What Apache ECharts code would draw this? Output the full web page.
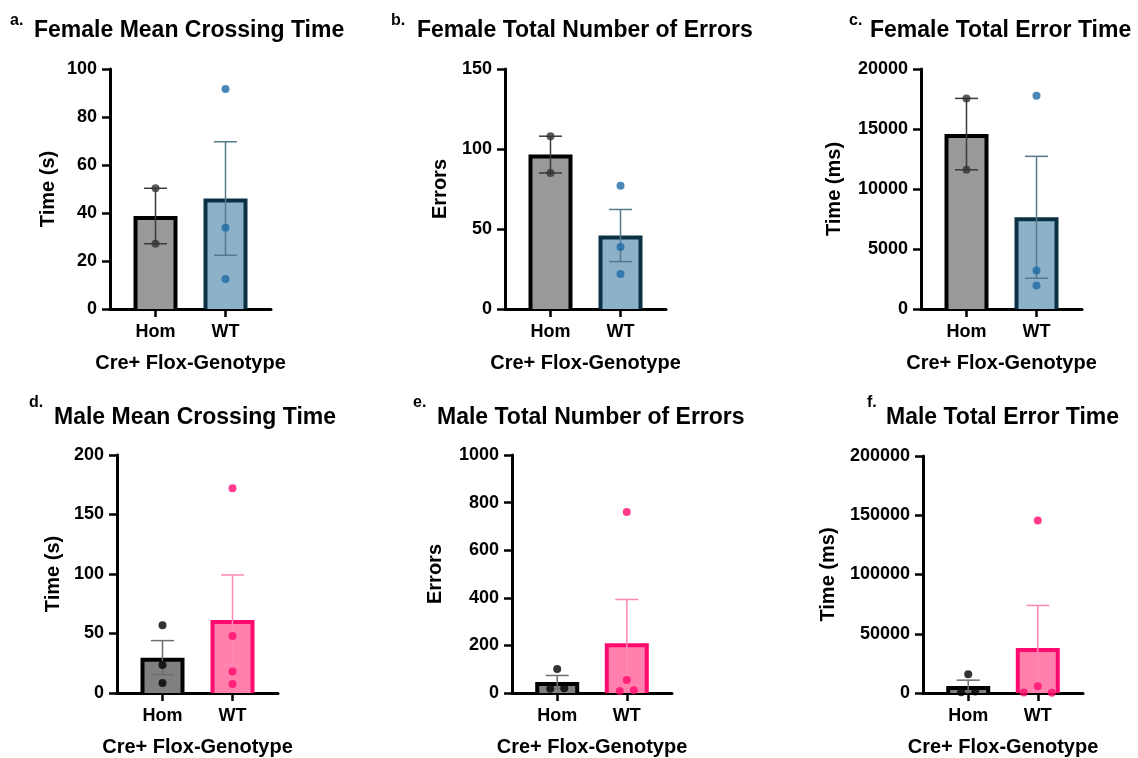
<!DOCTYPE html>
<html>
<head>
<meta charset="utf-8">
<script src="https://cdn.jsdelivr.net/npm/echarts@6/dist/echarts.min.js"></script>
<style>
  html, body { margin: 0; padding: 0; background: #fff; }
  #chart { width: 1138px; height: 758px; }
</style>
</head>
<body>
<div id="chart"></div>
<script>
// ---- data ----
const categories = ['Hom', 'WT'];
const xAxisTitle = 'Cre+ Flox-Genotype';

const panelLetters = ['a.', 'b.', 'c.', 'd.', 'e.', 'f.'];
const panelTitles = [
  'Female Mean Crossing Time',
  'Female Total Number of Errors',
  'Female Total Error Time',
  'Male Mean Crossing Time',
  'Male Total Number of Errors',
  'Male Total Error Time'
];
const yAxisTitles = ['Time (s)', 'Errors', 'Time (ms)', 'Time (s)', 'Errors', 'Time (ms)'];
const yAxisMax = [100, 150, 20000, 200, 1000, 200000];
const yAxisStep = [20, 50, 5000, 50, 200, 50000];

// individual animals per genotype
const femaleCrossingHom = [50.3, 27.2];
const femaleCrossingWT = [91.7, 33.9, 12.5];
const femaleErrorsHom = [108, 85];
const femaleErrorsWT = [77, 38.8, 21.9];
const femaleErrorTimeHom = [17550, 11600];
const femaleErrorTimeWT = [17775, 3200, 1950];
const maleCrossingHom = [57, 23.6, 8.5];
const maleCrossingWT = [172, 47.8, 18, 7.5];
const maleErrorsHom = [101, 20, 18];
const maleErrorsWT = [760, 55, 8, 12];
const maleErrorTimeHom = [15800, 1200, 600];
const maleErrorTimeWT = [145600, 5600, 400, 300];

const panelData = [
  [femaleCrossingHom, femaleCrossingWT],
  [femaleErrorsHom, femaleErrorsWT],
  [femaleErrorTimeHom, femaleErrorTimeWT],
  [maleCrossingHom, maleCrossingWT],
  [maleErrorsHom, maleErrorsWT],
  [maleErrorTimeHom, maleErrorTimeWT]
];
const panelSex = ['female', 'female', 'female', 'male', 'male', 'male'];

// ---- styles ----
const FONT = '"Liberation Sans", Arial, Helvetica, sans-serif';
const palette = {
  female: [
    { fill: '#999999', border: '#000000', err: '#3a3a3a', point: '#333333' },
    { fill: '#8cb1c9', border: '#0c3044', err: '#557a8e', point: '#1e6aa6' }
  ],
  male: [
    { fill: '#808080', border: '#000000', err: '#6e6e6e', point: '#000000' },
    { fill: '#ff80ac', border: '#ff0a6e', err: '#ff88b2', point: '#ff0a6e' }
  ]
};

// ---- layout ----
// lx/ly: panel letter position, tx/ty: heading position (text top)
const grids = [
  { left: 110, top: 69, width: 161, height: 240, nameGap: 52, lx: 10, ly: 13, tx: 34, ty: 19 },
  { left: 505, top: 69, width: 161, height: 240, nameGap: 55, lx: 391, ly: 13, tx: 417, ty: 19 },
  { left: 921, top: 69, width: 161, height: 240, nameGap: 77, lx: 849, ly: 13, tx: 870, ty: 19 },
  { left: 117, top: 455, width: 161, height: 240, nameGap: 54, lx: 29, ly: 395, tx: 54, ty: 406 },
  { left: 512, top: 455, width: 160, height: 240, nameGap: 67, lx: 413, ly: 395, tx: 437, ty: 406 },
  { left: 923, top: 456, width: 160, height: 239, nameGap: 85, lx: 867, ly: 395, tx: 886, ty: 406 }
];
const X_MIN = 0.35, X_MAX = 2.65;
const BAR_W = 44, BAR_BORDER = 4, CAP_W = 23, DOT = 8, ROW_GAP = 9, DOT_SPREAD = 14;

function mean(a) { return a.reduce((s, v) => s + v, 0) / a.length; }
function sem(a) {
  const m = mean(a);
  const sd = Math.sqrt(a.reduce((s, v) => s + (v - m) * (v - m), 0) / (a.length - 1));
  return sd / Math.sqrt(a.length);
}

// spread dots that would overlap on screen into centred rows
function dotOffsets(values, pxPerUnit) {
  const order = values.map((v, i) => i).sort((i, j) => values[j] - values[i]);
  const offsets = new Array(values.length).fill(0);
  let row = [];
  const flush = () => {
    if (row.length > 1) {
      const sorted = row.slice().sort((i, j) => values[j] - values[i]);
      if (row.length % 2 === 1) {
        const slots = [0];
        for (let k = 1; slots.length < row.length; k++) { slots.push(-k, k); }
        sorted.forEach((idx, n) => { offsets[idx] = slots[n] * DOT_SPREAD; });
      } else {
        const asc = row.slice().sort((i, j) => values[i] - values[j]);
        asc.forEach((idx, n) => { offsets[idx] = (n - (row.length - 1) / 2) * DOT_SPREAD; });
      }
    }
    row = [];
  };
  order.forEach(idx => {
    if (row.length && (values[row[0]] - values[idx]) * pxPerUnit > ROW_GAP) flush();
    row.push(idx);
  });
  flush();
  return offsets;
}

const option = {
  animation: false,
  backgroundColor: '#ffffff',
  grid: [], xAxis: [], yAxis: [], series: [], graphic: []
};

grids.forEach((g, p) => {
  option.grid.push({ left: g.left, top: g.top, width: g.width, height: g.height, containLabel: false });
  option.xAxis.push({
    gridIndex: p, type: 'value', min: X_MIN, max: X_MAX,
    name: xAxisTitle, nameLocation: 'middle', nameGap: 44,
    nameTextStyle: { fontFamily: FONT, fontWeight: 'bold', fontSize: 20, color: '#000' },
    axisLine: { show: true, lineStyle: { color: '#000', width: 3 } },
    axisTick: { show: true, length: 8, lineStyle: { color: '#000', width: 2.5 }, customValues: [1, 2] },
    axisLabel: {
      customValues: [1, 2], margin: 14,
      fontFamily: FONT, fontWeight: 'bold', fontSize: 18, color: '#000',
      formatter: v => categories[Math.round(v) - 1] || ''
    },
    splitLine: { show: false }
  });
  option.yAxis.push({
    gridIndex: p, type: 'value', min: 0, max: yAxisMax[p], interval: yAxisStep[p],
    name: yAxisTitles[p], nameLocation: 'middle', nameGap: g.nameGap,
    nameTextStyle: { fontFamily: FONT, fontWeight: 'bold', fontSize: 20, color: '#000' },
    axisLine: { show: true, lineStyle: { color: '#000', width: 3 } },
    axisTick: { show: true, length: 8, lineStyle: { color: '#000', width: 2.5 } },
    axisLabel: {
      margin: 13, fontFamily: FONT, fontWeight: 'bold', fontSize: 18, color: '#000',
      formatter: v => String(v)
    },
    splitLine: { show: false }
  });

  const groups = panelData[p];
  const cols = palette[panelSex[p]];
  const pxPerUnit = g.height / yAxisMax[p];

  // bars (mean), border drawn inside the bar outline, open at the baseline
  option.series.push({
    type: 'custom', xAxisIndex: p, yAxisIndex: p, z: 2,
    data: groups.map((vals, i) => [i + 1, mean(vals), i]),
    renderItem: (params, api) => {
      const c = cols[api.value(2)];
      const base = api.coord([api.value(0), 0]);
      const top = api.coord([api.value(0), api.value(1)]);
      const half = BAR_W / 2, inset = BAR_BORDER / 2;
      const x0 = base[0] - half + inset, x1 = base[0] + half - inset;
      const y0 = top[1] + inset, yb = base[1];
      return {
        type: 'group',
        children: [
          { type: 'rect', shape: { x: x0, y: y0, width: x1 - x0, height: yb - y0 }, style: { fill: c.fill } },
          { type: 'polyline', shape: { points: [[x0, yb], [x0, y0], [x1, y0], [x1, yb]] },
            style: { fill: null, stroke: c.border, lineWidth: BAR_BORDER, lineJoin: 'miter' } }
        ]
      };
    }
  });

  // mean ± SEM
  option.series.push({
    type: 'custom', xAxisIndex: p, yAxisIndex: p, z: 3,
    data: groups.map((vals, i) => {
      const m = mean(vals), s = sem(vals);
      return [i + 1, m - s, m + s, i];
    }),
    renderItem: (params, api) => {
      const c = cols[api.value(3)];
      const lo = api.coord([api.value(0), api.value(1)]);
      const hi = api.coord([api.value(0), api.value(2)]);
      const st = { stroke: c.err, lineWidth: 1.5 };
      return {
        type: 'group',
        children: [
          { type: 'line', shape: { x1: lo[0], y1: lo[1], x2: hi[0], y2: hi[1] }, style: st },
          { type: 'line', shape: { x1: hi[0] - CAP_W / 2, y1: hi[1], x2: hi[0] + CAP_W / 2, y2: hi[1] }, style: st },
          { type: 'line', shape: { x1: lo[0] - CAP_W / 2, y1: lo[1], x2: lo[0] + CAP_W / 2, y2: lo[1] }, style: st }
        ]
      };
    }
  });

  // individual animals
  const dots = [];
  groups.forEach((vals, i) => {
    const offs = dotOffsets(vals, pxPerUnit);
    vals.forEach((v, k) => {
      dots.push({ value: [i + 1, v], symbolOffset: [offs[k], 0], itemStyle: { color: cols[i].point } });
    });
  });
  option.series.push({
    type: 'scatter', xAxisIndex: p, yAxisIndex: p, z: 4, clip: false,
    symbol: 'circle', symbolSize: DOT, data: dots
  });

  // panel letter and heading
  option.graphic.push({
    type: 'text', left: g.lx, top: g.ly, z: 10,
    style: { text: panelLetters[p], font: 'bold 16px ' + FONT, fill: '#000' }
  });
  option.graphic.push({
    type: 'text', left: g.tx, top: g.ty, z: 10,
    style: { text: panelTitles[p], font: 'bold 23px ' + FONT, fill: '#000' }
  });
});

const chart = echarts.init(document.getElementById('chart'), null, { renderer: 'canvas' });
chart.setOption(option);
</script>
</body>
</html>
